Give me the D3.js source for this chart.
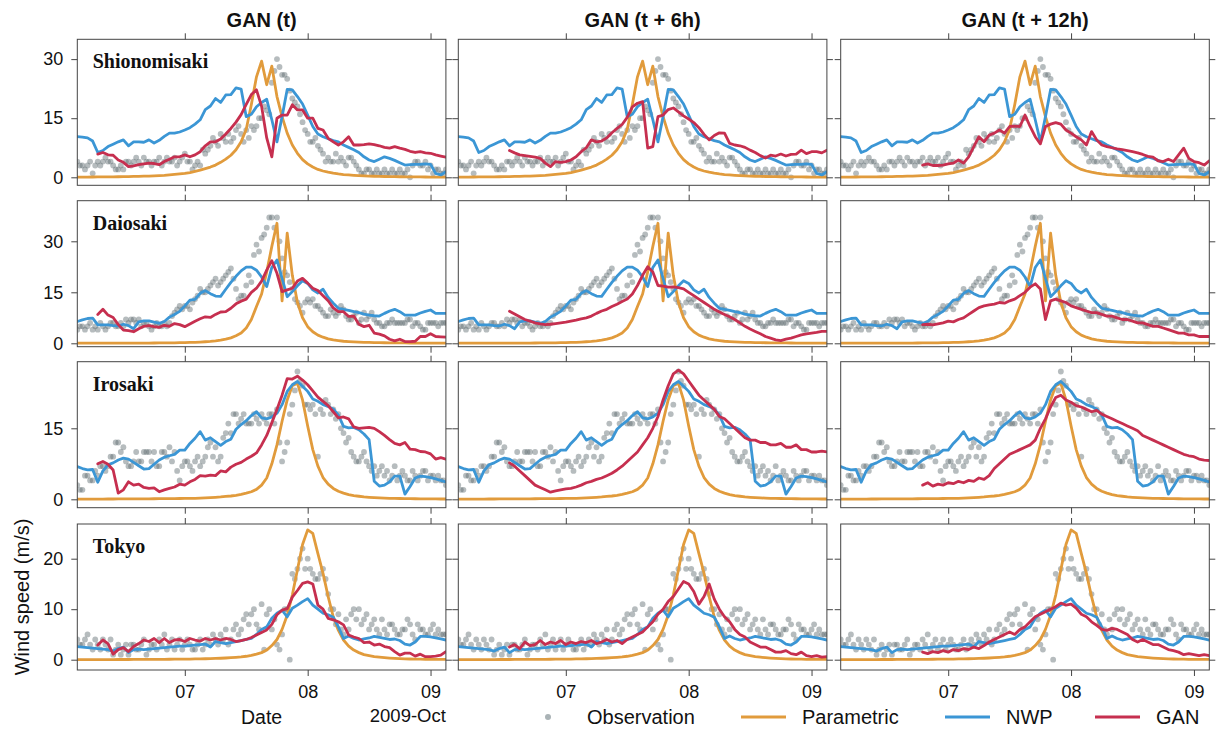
<!DOCTYPE html>
<html>
<head>
<meta charset="utf-8">
<script src="https://cdn.jsdelivr.net/npm/d3@7"></script>
<style>
  body { margin: 0; background: #fff; }
  svg { display: block; }
</style>
</head>
<body>
<svg id="chart" width="1221" height="731"></svg>
<script>
// ---- data: wind speed (m/s), typhoon passage 2009-10-06 03:00 .. 2009-10-09 03:00 ----
const firstHour = 3;                  // hours after 2009-10-06 00:00
const stations = ["Shionomisaki", "Daiosaki", "Irosaki", "Tokyo"];
const horizons = ["GAN (t)", "GAN (t + 6h)", "GAN (t + 12h)"];
const ganFirstHour = [7, 13, 19];     // first hour available for each horizon
const yTickValues = [[0, 15, 30], [0, 15, 30], [0, 15], [0, 10, 20]];

// Shionomisaki  (obs*: on the hour, obs*Half: at half past)
const obsShionomisaki = [4,3,3,1,4,4,4,3,2,2, 4,4,4,5,4,4,5,4,4,5, 4,6,4,3,3,6,8,9,11,9, 9,12,11,12,13,13,15,17,24,30, 26,25,20,18,14,11,9,8,6,5, 4,4,4,5,4,2,1,2,1,1, 2,1,1,2,1,0,4,3,4,3, 2,1,2];
const obsShionomisakiHalf = [3,2,4,3,3,5,4,2,3,4, 3,5,3,4,3,4,3,5,4,3, 5,4,2,4,7,7,10,8,10,11, 10,13,9,10,12,15,18,16,27,28, 26,22,19,16,12,9,10,7,4,4, 6,5,3,5,3,1,2,1,2,1, 1,2,1,1,2,3,4,3,2,1, 2,1];
const paramShionomisaki = [0.05,0.06,0.07,0.08,0.09,0.1,0.11,0.12,0.14,0.16,0.18,0.21,0.24,0.28,0.32,0.37,0.43,0.5, 0.6,0.72,0.86,1.0,1.2,1.5,1.8,2.2,2.6,3.1,3.8,4.6,5.6,7.0,9.0,12.2, 18.5,25.5,29.5,23.5,28.2,20.5,15.4,11.2,8.2,6.1,4.5,3.4, 2.6,2.0,1.6,1.3,1.05,0.85,0.7,0.6,0.5,0.42,0.36,0.31,0.27,0.23,0.2,0.18,0.16,0.14,0.12,0.11,0.1,0.09,0.08,0.07,0.06,0.06,0.05];
const nwpShionomisaki = [10.3,10.2,10.0,9.2,6.3,6.8,7.8,8.4,9.0,9.5, 8.0,9.0,9.0,8.9,9.5,8.7,9.4,10.4,11.2,11.2, 11.5,12.0,12.6,13.5,14.6,17.2,18.1,20.0,19.0,20.9, 21.0,22.7,22.4,15.4,16.0,17.9,19.0,19.8,14.6,9.0, 15.4,22.3,22.2,20.5,18.6,15.8,12.9,11.0,10.3,9.8, 9.3,9.0,8.2,7.6,7.0,6.3,5.2,4.4,4.0,4.6, 5.2,4.8,4.3,3.7,3.1,3.2,3.3,3.3,3.4,3.3, 1.0,0.6,1.4];
const ganShionomisakiT = [5.9,6.3,5.7,5.6,4.4,3.8,2.7,2.9,3.2,3.4, 3.6,3.5,3.2,4.0,4.6,5.2,5.2,5.7,5.2,5.7, 6.5,8.0,9.0,9.0,9.7,11.0,12.4,14.0,15.9,18.5, 21.0,22.2,18.0,10.0,5.2,15.0,15.8,15.8,18.4,17.1, 17.1,15.0,15.0,12.4,12.0,9.9,9.0,8.2,9.0,10.3, 8.2,8.2,8.3,8.5,8.3,8.0,7.6,7.4,7.8,7.4, 7.1,6.6,6.3,6.5,6.2,6.1,5.7,5.4,5.1];
const ganShionomisaki6 = [6.8,6.2,5.7,5.5,5.3,5.1,4.8,3.6,2.7,4.0, 3.8,4.0,4.4,5.2,6.5,7.5,9.5,9.0,9.2,10.0, 11.3,12.4,13.4,15.2,17.9,18.8,19.2,7.4,7.8,15.4, 15.8,17.2,17.6,16.6,15.6,14.8,13.9,12.6,10.9,9.5, 10.6,11.3,11.2,8.6,8.2,8.0,7.6,6.9,6.3,5.5, 4.9,5.6,5.4,5.9,5.4,5.8,5.9,6.9,6.0,6.5, 6.5,6.2,6.9];
const ganShionomisaki12 = [3.1,3.4,3.0,3.0,3.1,3.4,3.6,4.4,3.6,5.2, 7.8,10.3,9.0,10.7,11.2,12.0,11.2,12.9,13.0,12.9, 15.8,12.9,10.3,8.5,12.9,13.5,13.9,13.5,12.0,11.2, 10.3,9.5,8.2,11.6,9.5,8.2,7.8,7.5,7.2,7.0, 6.8,6.5,6.2,5.8,5.3,5.1,4.2,4.0,4.6,4.0, 5.7,7.4,4.8,4.0,3.7,3.1,4.2];

// Daiosaki
const obsDaiosaki = [4,5,5,4,4,5,5,6,5,5, 6,7,7,6,5,5,5,6,6,9, 11,11,10,13,16,15,17,19,18,20, 22,16,14,17,18,29,31,34,37,37, 25,20,16,12,9,13,13,11,9,8, 9,9,10,7,8,6,9,8,7,6, 5,6,6,6,6,7,6,5,4,6, 6,6,6];
const obsDaiosakiHalf = [5,4,6,5,6,4,6,5,6,7, 7,6,5,6,4,6,5,5,8,10, 10,11,12,14,15,16,18,17,19,21, 19,13,14,20,26,27,32,37,34,30, 21,18,13,11,12,12,11,10,8,10, 8,11,8,7,9,7,7,9,6,5, 6,7,6,6,7,5,6,4,6,6, 5,6];
const paramDaiosaki = [0.03,0.03,0.03,0.04,0.04,0.04,0.05,0.05,0.05,0.06, 0.06,0.07,0.07,0.08,0.08,0.09,0.1,0.11,0.12,0.14, 0.17,0.2,0.25,0.3,0.37,0.46,0.57,0.72,0.92,1.2, 1.6,2.2,3.0,4.5,7.0,10.8,14.5,21.0,28.5,35.3, 12.5,32.4,20.0,12.0,7.5,4.9,3.4,2.4,1.8,1.3, 1.0,0.8,0.6,0.5,0.42,0.36,0.3,0.26,0.22,0.19, 0.16,0.14,0.12,0.11,0.1,0.09,0.08,0.07,0.06,0.06, 0.05,0.05,0.05];
const nwpDaiosaki = [6.4,6.9,7.3,7.4,5.4,5.4,5.4,5.2,5.1,5.6, 5.2,4.3,6.3,6.6,6.6,6.2,5.9,6.4,7.7,8.5, 9.4,11.0,12.7,12.9,14.7,15.5,14.6,13.9,13.8,15.9, 17.9,19.7,21.3,22.4,22.4,21.5,19.5,16.7,22.3,24.5, 19.1,13.7,15.2,16.9,18.4,17.6,15.7,14.8,15.9,13.5, 11.8,10.3,10.0,9.7,9.3,9.0,8.6,8.3,8.1,8.0, 8.8,9.5,10.0,9.3,8.3,8.3,8.3,8.9,9.4,9.8, 8.8,8.8,8.8];
const ganDaiosakiT = [8.5,10.0,8.3,7.6,5.5,3.9,3.7,3.4,4.3,5.0, 5.2,4.9,4.7,5.3,5.0,5.8,5.5,4.9,5.7,6.5, 7.2,7.8,7.6,8.5,9.2,9.3,10.3,11.6,12.4,13.0, 15.0,16.2,18.3,21.5,24.3,20.6,15.2,15.7,16.2,18.3, 19.1,17.7,16.2,15.5,14.0,12.5,10.4,9.3,9.3,7.9, 8.0,5.6,4.9,5.3,3.0,2.7,2.2,1.2,0.7,1.2, 0.5,0.5,0.6,2.0,2.0,2.8,2.0,1.9,1.8];
const ganDaiosaki6 = [9.4,8.6,7.8,7.0,6.5,6.0,5.7,5.5,5.6,5.8, 6.0,6.2,6.5,6.8,7.2,7.5,8.0,8.8,9.5,10.0, 10.8,11.5,12.3,13.0,14.5,17.0,20.0,22.5,21.0,17.0, 16.8,16.5,16.6,16.4,16.0,15.0,14.0,13.0,12.0,11.0, 10.0,9.2,8.5,7.8,7.0,6.0,5.0,4.2,3.5,2.8, 2.0,1.5,1.0,0.8,1.2,1.5,2.0,2.5,2.8,3.0, 3.2,3.5,3.5];
const ganDaiosaki12 = [5.5,5.6,5.4,5.7,6.0,6.5,6.3,7.0,7.5,8.5, 9.5,10.5,11.0,11.3,11.5,12.0,11.8,12.5,13.0,14.0, 15.0,16.5,17.5,16.0,7.0,12.5,13.0,12.5,12.0,11.0, 10.5,10.0,9.5,9.0,9.0,8.5,8.0,8.0,7.5,7.0, 7.0,6.5,6.0,6.0,5.5,5.0,5.0,4.5,4.0,3.5, 3.0,3.0,2.5,2.5,2.0,2.0,2.0];

// Irosaki
const obsIrosaki = [3,2,5,4,5,7,7,9,12,11, 7,8,8,10,10,10,7,10,11,10, 4,8,7,8,7,9,12,11,9,14, 14,18,17,16,16,17,18,16,18,19, 8,12,20,27,24,20,20,9,18,20, 19,18,14,13,9,8,10,7,7,6, 5,4,7,5,5,4,5,5,6,5, 4,4,3];
const obsIrosakiHalf = [2,5,4,6,7,6,9,12,10,8, 7,10,8,10,8,7,10,9,8,6, 7,8,6,9,8,11,9,8,13,16, 18,16,18,16,18,16,17,18,16,12, 10,18,23,25,20,19,18,19,21,18, 17,15,12,10,8,9,8,6,5,7, 6,5,4,6,4,6,4,6,4,5, 5,4];
const paramIrosaki = [0.05,0.05,0.05,0.06,0.06,0.06,0.07,0.07,0.08,0.08, 0.09,0.09,0.1,0.1,0.11,0.12,0.13,0.14,0.15,0.16, 0.17,0.18,0.2,0.22,0.26,0.3,0.36,0.43,0.5,0.6, 0.7,0.85,1.05,1.3,1.6,2.1,3.0,4.5,7.5,11.5, 16.5,21.0,24.0,24.5,21.0,15.5,10.5,7.0,4.6,3.2, 2.3,1.7,1.3,1.0,0.8,0.65,0.5,0.42,0.35,0.3, 0.26,0.22,0.19,0.17,0.15,0.13,0.12,0.11,0.1,0.09, 0.08,0.07,0.07];
const nwpIrosaki = [6.9,6.5,6.2,6.3,3.6,6.0,7.3,7.7,8.3,8.7, 8.5,7.8,7.1,6.4,6.5,7.4,8.3,8.9,9.2,9.5, 10.4,10.4,11.8,12.9,14.3,12.5,13.0,12.2,11.4,12.2, 12.7,14.8,15.8,16.6,17.7,18.5,17.2,17.0,17.4,18.2, 20.0,22.8,24.2,24.9,23.9,22.8,21.2,20.7,20.0,19.6, 19.1,17.8,15.4,15.1,15.2,14.7,13.8,12.6,3.8,2.8, 3.0,3.7,4.9,4.9,1.1,2.7,4.5,4.9,4.8,4.6, 4.3,4.0,3.7];
const ganIrosakiT = [7.5,8.0,7.4,6.2,1.3,2.0,3.7,3.0,3.2,2.5, 2.3,2.4,1.6,2.0,2.3,2.6,3.2,3.0,3.7,4.2, 5.0,4.9,5.1,5.0,6.0,5.8,6.8,7.4,7.8,8.5, 9.1,9.8,11.5,13.5,16.2,19.0,22.0,25.5,25.4,26.0, 25.2,24.2,22.9,21.6,20.7,19.8,18.5,17.2,17.4,17.0, 15.3,15.0,15.1,15.2,15.0,14.3,13.5,12.6,11.8,11.5, 12.0,10.6,10.5,10.1,10.0,9.6,8.5,8.8,8.5];
const ganIrosaki6 = [7.7,7.0,6.0,5.0,4.0,3.0,2.5,2.0,1.5,1.8, 2.0,2.2,2.3,2.6,3.0,3.5,3.8,4.2,4.5,5.0, 5.5,6.2,7.0,8.0,9.0,10.0,11.5,13.0,15.0,17.5, 21.0,24.0,26.5,27.3,26.5,25.0,23.5,22.0,21.0,20.0, 19.0,17.5,17.0,16.0,15.0,14.0,13.0,12.5,12.5,12.0, 12.0,11.5,11.5,11.8,11.0,11.0,11.5,10.5,10.5,10.0, 10.0,10.2,10.0];
const ganIrosaki12 = [3.0,3.5,2.8,3.2,3.0,3.5,3.3,3.8,3.5,4.0, 3.8,4.5,4.2,5.0,6.5,7.5,8.5,9.5,10.0,10.5, 11.0,11.5,12.5,15.0,17.0,19.5,21.5,22.0,21.0,20.5, 19.8,19.5,19.0,18.5,18.8,18.0,17.5,17.0,16.5,16.0, 15.5,15.0,14.5,13.5,13.0,12.5,12.0,11.5,11.0,10.5, 10.0,9.5,9.2,9.0,8.5,8.3,8.2];

// Tokyo
const obsTokyo = [4,3,5,2,3,4,2,1,3,2, 1,3,2,4,2,3,4,5,3,2, 4,3,3,2,4,3,3,4,5,6, 4,7,6,9,9,7,11,9,6,3, 5,10,17,18,22,20,17,16,18,13, 10,9,5,6,10,10,8,6,8,5, 6,7,6,5,6,7,4,6,5,6, 5,5,5];
const obsTokyoHalf = [3,4,3,4,2,3,4,2,1,3, 3,2,3,1,3,2,3,2,4,3, 2,4,2,3,2,4,5,3,4,3, 6,5,8,7,10,6,2,10,8,2, 10,0,16,20,18,18,16,17,16,10, 7,6,8,9,8,7,9,7,6,8, 5,7,5,6,8,5,7,6,5,7, 6,5];
const paramTokyo = [0.02,0.02,0.02,0.02,0.03,0.03,0.03,0.03,0.04,0.04, 0.04,0.05,0.05,0.06,0.06,0.07,0.07,0.08,0.09,0.1, 0.11,0.12,0.13,0.15,0.17,0.19,0.22,0.25,0.29,0.34, 0.4,0.47,0.56,0.68,0.85,1.1,1.4,1.9,2.8,4.0, 6.0,8.8,12.8,17.8,22.8,25.7,25.0,21.0,17.1,12.5, 8.5,5.8,3.9,2.7,1.9,1.4,1.0,0.8,0.6,0.5, 0.4,0.32,0.26,0.21,0.17,0.14,0.12,0.1,0.08,0.07, 0.06,0.05,0.05];
const nwpTokyo = [2.6,2.5,2.4,2.3,2.2,2.1,2.0,1.7,2.2,2.5, 1.4,2.0,2.1,2.0,2.1,2.2,2.3,2.4,2.5,2.6, 2.7,2.7,2.8,2.9,3.0,3.1,2.5,3.6,3.4,3.2, 3.4,3.6,3.8,4.0,4.2,5.0,6.0,6.5,8.2,9.2, 9.8,8.5,10.2,10.8,11.5,12.1,10.8,10.0,9.2,8.9, 8.4,6.5,4.2,4.7,4.2,3.9,4.1,4.3,4.6,4.4, 4.2,4.0,4.1,3.8,3.1,2.9,3.5,4.6,4.6,4.5, 4.3,4.1,3.9];
const ganTokyoT = [2.9,3.9,3.2,1.1,2.0,2.4,1.6,2.6,3.2,3.9, 3.6,4.2,3.4,4.2,3.4,3.9,4.0,3.6,4.2,3.9, 3.7,4.2,3.9,4.2,3.9,4.2,4.0,3.6,3.8,4.0, 4.4,4.9,5.4,5.9,7.0,8.9,9.8,10.1,12.4,13.7, 15.1,15.4,15.0,10.8,10.0,8.2,7.9,7.5,6.9,4.9, 4.5,4.2,3.4,3.5,2.9,3.1,2.6,2.4,1.6,0.9, 1.3,1.3,0.7,1.1,0.6,0.6,0.7,0.9,1.6];
const ganTokyo6 = [2.5,3.0,2.2,3.5,2.8,3.0,3.8,3.0,3.5,3.2, 3.8,3.0,3.5,3.2,3.6,3.4,3.8,3.2,3.5,4.0, 3.5,3.8,3.2,4.0,4.5,5.0,5.5,6.5,7.5,9.0, 10.0,11.5,12.5,14.0,15.5,15.0,13.5,11.0,12.5,15.0, 12.0,10.0,8.5,7.5,6.0,5.0,4.5,3.5,3.0,2.5, 2.5,2.0,1.5,1.5,1.8,1.2,1.0,1.5,0.8,0.6, 0.8,0.5,0.6];
const ganTokyo12 = [1.5,1.2,1.6,1.4,1.8,1.5,2.0,1.8,2.2,2.0, 2.5,2.2,2.8,3.5,4.0,4.5,5.0,5.5,5.0,6.0, 6.5,7.5,8.5,9.0,9.5,10.0,10.5,11.2,10.8,11.0, 10.2,9.0,8.5,7.5,6.8,6.0,5.8,6.2,6.0,5.5, 5.0,4.0,3.5,4.0,3.5,3.0,3.0,2.5,2.0,1.8, 1.5,1.0,1.2,1.0,0.8,1.0,0.8];

const stationSeries = [
  { obs: obsShionomisaki, obsHalf: obsShionomisakiHalf, param: paramShionomisaki, nwp: nwpShionomisaki, gan: [ganShionomisakiT, ganShionomisaki6, ganShionomisaki12] },
  { obs: obsDaiosaki,     obsHalf: obsDaiosakiHalf,     param: paramDaiosaki,     nwp: nwpDaiosaki,     gan: [ganDaiosakiT, ganDaiosaki6, ganDaiosaki12] },
  { obs: obsIrosaki,      obsHalf: obsIrosakiHalf,      param: paramIrosaki,      nwp: nwpIrosaki,      gan: [ganIrosakiT, ganIrosaki6, ganIrosaki12] },
  { obs: obsTokyo,        obsHalf: obsTokyoHalf,        param: paramTokyo,        nwp: nwpTokyo,        gan: [ganTokyoT, ganTokyo6, ganTokyo12] }
];

// ---- layout ----
const colLeft = [77.3, 458.3, 840.7];
const rowTop = [39.3, 200.7, 361.7, 524];
const panelW = 368.6, panelH = 146;
const yDomains = [[-2.03, 35.03], [-1.0, 41.94], [-1.77, 29.07], [-2.04, 26.87]];
const colors = { obs: "#5d6b6e", param: "#E19B3C", nwp: "#3B96D5", gan: "#C62F4F" };
const sans = "'Liberation Sans', Arial, Helvetica, sans-serif";
const serif = "'Liberation Serif', 'Times New Roman', serif";

const t0 = new Date(2009, 9, 6, 0, 0);
const toDate = h => new Date(t0.getTime() + h * 3600e3);
const toPoints = (start, values) => values.map((v, i) => ({ t: toDate(start + i), v }));

const svg = d3.select("#chart");
const defs = svg.append("defs");

function styleAxis(g, fontSize) {
  g.select(".domain").remove();
  g.selectAll(".tick line").attr("stroke", "#444").attr("stroke-width", 1);
  g.selectAll(".tick text").attr("fill", "#111").style("font-family", sans).style("font-size", fontSize + "px");
}

stations.forEach((station, r) => {
  const s = stationSeries[r];
  horizons.forEach((hz, c) => {
    const x0 = colLeft[c], y0 = rowTop[r];
    const x = d3.scaleTime()
      .domain([toDate(firstHour), toDate(firstHour + 72)])
      .range([x0, x0 + panelW]);
    const y = d3.scaleLinear().domain(yDomains[r]).range([y0 + panelH, y0]);

    const clipId = `clip-${r}-${c}`;
    defs.append("clipPath").attr("id", clipId)
      .append("rect").attr("x", x0).attr("y", y0).attr("width", panelW).attr("height", panelH);

    const panel = svg.append("g");
    const plot = panel.append("g").attr("clip-path", `url(#${clipId})`);

    // observations (hourly and half-hourly reports)
    const obsPoints = toPoints(firstHour, s.obs).concat(toPoints(firstHour + 0.5, s.obsHalf));
    plot.append("g").selectAll("circle")
      .data(obsPoints)
      .join("circle")
      .attr("cx", d => x(d.t)).attr("cy", d => y(d.v)).attr("r", 2.9)
      .attr("fill", colors.obs).attr("fill-opacity", 0.45);

    const line = d3.line().x(d => x(d.t)).y(d => y(d.v));
    const drawLine = (pts, color) => plot.append("path")
      .attr("d", line(pts)).attr("fill", "none")
      .attr("stroke", color).attr("stroke-width", 2.8)
      .attr("stroke-linejoin", "round").attr("stroke-linecap", "round");

    drawLine(toPoints(firstHour, s.param), colors.param);
    drawLine(toPoints(firstHour, s.nwp), colors.nwp);
    drawLine(toPoints(ganFirstHour[c], s.gan[c]), colors.gan);

    // frame
    panel.append("rect").attr("x", x0).attr("y", y0).attr("width", panelW).attr("height", panelH)
      .attr("fill", "none").attr("stroke", "#444").attr("stroke-width", 1);

    // axes: ticks on every side, labels on the outer panels only
    const days = d3.timeDay.every(1);
    const dayFmt = d3.timeFormat("%d");
    panel.append("g").attr("transform", `translate(0,${y0})`)
      .call(d3.axisTop(x).ticks(days).tickSize(6).tickFormat(""))
      .call(g => styleAxis(g, 17));
    panel.append("g").attr("transform", `translate(0,${y0 + panelH})`)
      .call(d3.axisBottom(x).ticks(days).tickSize(6).tickPadding(9)
        .tickFormat(r === stations.length - 1 ? d => dayFmt(d) : ""))
      .call(g => styleAxis(g, 18));
    panel.append("g").attr("transform", `translate(${x0},0)`)
      .call(d3.axisLeft(y).tickValues(yTickValues[r]).tickSize(6).tickPadding(8)
        .tickFormat(c === 0 ? d3.format("d") : ""))
      .call(g => styleAxis(g, 18));
    panel.append("g").attr("transform", `translate(${x0 + panelW},0)`)
      .call(d3.axisRight(y).tickValues(yTickValues[r]).tickSize(6).tickFormat(""))
      .call(g => styleAxis(g, 18));

    if (r === 0) {
      svg.append("text").attr("x", x0 + panelW / 2).attr("y", 27.3)
        .attr("text-anchor", "middle").style("font-family", sans)
        .style("font-size", "20px").style("font-weight", "bold").attr("fill", "#111").text(hz);
    }
    if (c === 0) {
      svg.append("text").attr("x", x0 + 15.4).attr("y", y0 + 29)
        .style("font-family", serif).style("font-size", "20px").style("font-weight", "bold")
        .attr("fill", "#111").text(station);
    }
  });
});

// axis titles
svg.append("text").attr("x", colLeft[0] + panelW / 2).attr("y", 724)
  .attr("text-anchor", "middle").style("font-family", sans).style("font-size", "19.5px")
  .attr("fill", "#111").text("Date");
svg.append("text").attr("x", colLeft[0] + panelW).attr("y", 721.5)
  .attr("text-anchor", "end").style("font-family", sans).style("font-size", "18.5px")
  .attr("fill", "#111").text("2009-Oct");
svg.append("text").attr("transform", "translate(29,597) rotate(-90)")
  .attr("text-anchor", "middle").style("font-family", sans).style("font-size", "20px")
  .attr("fill", "#111").text("Wind speed (m/s)");

// legend
const legendItems = [
  { label: "Observation", kind: "dot", color: "#aab3b6", x: 548 },
  { label: "Parametric", kind: "line", color: colors.param, x: 741 },
  { label: "NWP", kind: "line", color: colors.nwp, x: 945 },
  { label: "GAN", kind: "line", color: colors.gan, x: 1095 }
];
const legend = svg.append("g");
const ly = 717;
legendItems.forEach(it => {
  if (it.kind === "dot") {
    legend.append("circle").attr("cx", it.x).attr("cy", ly).attr("r", 3).attr("fill", it.color);
    legend.append("text").attr("x", it.x + 39).attr("y", ly + 7)
      .style("font-family", sans).style("font-size", "20px").attr("fill", "#111").text(it.label);
  } else {
    legend.append("line").attr("x1", it.x).attr("x2", it.x + 45).attr("y1", ly).attr("y2", ly)
      .attr("stroke", it.color).attr("stroke-width", 3);
    legend.append("text").attr("x", it.x + 61).attr("y", ly + 7)
      .style("font-family", sans).style("font-size", "20px").attr("fill", "#111").text(it.label);
  }
});
</script>
</body>
</html>
